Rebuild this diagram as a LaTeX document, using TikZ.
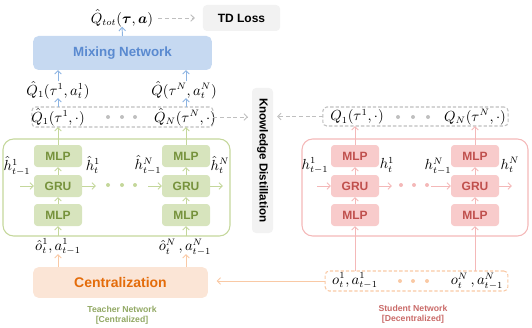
\documentclass[tikz,border=0pt]{standalone}
\usepackage{xcolor}
\usepackage{amsmath}
\usepackage{amssymb}
\usepackage{fontspec}
\setmainfont{Liberation Sans}
\usepackage{tikz}
\usetikzlibrary{positioning}
\usetikzlibrary{arrows.meta}
\usetikzlibrary{calc}

\definecolor{mixfill}{HTML}{C6D9F1}
\definecolor{mixtext}{HTML}{5A8AD0}
\definecolor{blueline}{HTML}{8DB4E2}
\definecolor{tdfill}{HTML}{F2F2F2}
\definecolor{dashgray}{HTML}{BFBFBF}
\definecolor{tline}{HTML}{C4D79B}
\definecolor{tfill}{HTML}{D7E4BD}
\definecolor{tdark}{HTML}{76923C}
\definecolor{sline}{HTML}{F4B8B8}
\definecolor{sfill}{HTML}{F8CBCB}
\definecolor{sdark}{HTML}{C0504D}
\definecolor{cfill}{HTML}{FBE5D6}
\definecolor{cdark}{HTML}{E46C0A}
\definecolor{oline}{HTML}{F9C9A5}

\begin{document}
\begin{tikzpicture}[
  x=0.75pt, y=-0.75pt,
  >={Straight Barb[length=2.6pt,width=5pt]},
  every node/.style={inner sep=0pt, outer sep=0pt},
  lbl/.style={font=\fontsize{10.5}{12}\selectfont},
  tbox/.style={fill=tfill, rounded corners=2.5pt, minimum width=36pt,
    minimum height=16.5pt, text=tdark, font=\fontsize{9}{10}\selectfont\bfseries},
  sbox/.style={tbox, fill=sfill, text=sdark},
  dbox/.style={draw=dashgray, dash pattern=on 2.5pt off 1.5pt, rounded corners=3pt, line width=0.8pt},
  tarr/.style={->, draw=tline, line width=0.7pt},
  sarr/.style={->, draw=sline, line width=0.7pt},
  barr/.style={->, draw=blueline, line width=0.7pt},
  oarr/.style={->, draw=oline, line width=0.7pt},
  garr/.style={->, draw=dashgray, dash pattern=on 3pt off 2pt, line width=0.7pt},
]
\useasboundingbox (0,0) rectangle (532,328);

% top: mixing network and loss
\node[lbl] (qtot) at (122,18) {$\hat{Q}_{tot}(\boldsymbol{\tau},\boldsymbol{a})$};
\node[fill=tdfill, rounded corners=3pt, minimum width=58pt, minimum height=19.5pt,
  font=\fontsize{9}{10}\selectfont\bfseries] (td) at (241.5,18) {TD Loss};
\node[fill=mixfill, rounded corners=4pt, minimum width=134pt, minimum height=25.5pt,
  text=mixtext, font=\fontsize{10}{12}\selectfont\bfseries] (mix) at (122.5,53) {Mixing Network};
\draw[barr] (mix.north) -- (qtot.south);
\draw[garr, shorten <=4pt, shorten >=6pt] (qtot.east) -- (td.west);

\node[lbl] (qa1) at (58,90) {$\hat{Q}_1(\tau^1,a^1_t)$};
\node[lbl] (qaN) at (184,90) {$\hat{Q}(\tau^N,a^N_t)$};
\draw[barr] (qa1.north -| 58,0) -- (58,70);
\draw[barr] (qaN.north -| 186,0) -- (186,70);

% teacher network
\node[dbox, minimum width=136pt, minimum height=15pt] (tqbox) at (122.5,117) {};
\node[lbl] (tq1) at (58,117) {$\hat{Q}_1(\tau^1,\cdot)$};
\node[lbl] (tqN) at (185,117) {$\hat{Q}_N(\tau^N,\cdot)$};
\foreach \x in {108,122,135} \fill[dashgray] (\x,117) circle (1.5pt);
\draw[barr] (58,107) -- (58,98);
\draw[barr] (186,107) -- (186,98);

\node[draw=tline, line width=0.8pt, rounded corners=8pt, minimum width=170.25pt,
  minimum height=72.75pt] (tnet) at (116.5,187.5) {};
\foreach \i/\x in {1/58, N/186} {
  \node[tbox] (tmlpb\i) at (\x,215) {MLP};
  \node[tbox] (tgru\i) at (\x,186) {GRU};
  \node[tbox] (tmlpt\i) at (\x,156) {MLP};
  \draw[tarr] (tmlpb\i) -- (tgru\i);
  \draw[tarr] (tgru\i) -- (tmlpt\i);
  \draw[tarr] (tmlpt\i.north) -- (tmlpt\i.north |- tqbox.south);
  \draw[tarr] (tmlpb\i.south |- tnet.south) -- (tmlpb\i.south);
}
\node[lbl] (th1a) at (17,166) {$\hat{h}^1_{t-1}$};
\node[lbl] (th1b) at (93,165) {$\hat{h}^1_t$};
\node[lbl] (thNa) at (148,165) {$\hat{h}^N_{t-1}$};
\node[lbl] (thNb) at (220,165) {$\hat{h}^N_t$};
\coordinate (tha) at (20,186);
\coordinate (thb) at (96,186);
\coordinate (thc) at (148,186);
\coordinate (thd) at (223,186);
\draw[tarr] (tha) -- (tgru1.west);
\draw[tarr] (tgru1.east) -- (thb);
\draw[tarr] (thc) -- (tgruN.west);
\draw[tarr] (tgruN.east) -- (thd);
\foreach \x in {108,122,135} \fill[tline] (\x,185) circle (1.5pt);

\node[lbl] (tin1) at (58,247) {$\hat{o}^1_t,a^1_{t-1}$};
\node[lbl] (tinN) at (185,247) {$\hat{o}^N_t\,,a^N_{t-1}$};
\node[fill=cfill, rounded corners=4pt, minimum width=131pt, minimum height=23pt,
  text=cdark, font=\fontsize{10.5}{12}\selectfont\bfseries] (cent) at (120.5,282.5) {Centralization};
\draw[oarr] (cent.north -| 58,0) -- (58,254);
\draw[oarr] (cent.north -| 186,0) -- (186,254);
\node[align=center, text=tdark!80, font=\fontsize{6.5}{7.5}\selectfont\bfseries] (tname) at (122,315)
  {Teacher Network\\{[Centralized]}};

% knowledge distillation
\node[fill=tdfill, rounded corners=3pt, rotate=-90, minimum width=108.75pt, minimum height=15.75pt,
  font=\fontsize{8.7}{10}\selectfont\bfseries] (kd) at (262.5,160.5) {Knowledge Distillation};

% student network
\node[dbox, minimum width=139pt, minimum height=14.25pt] (sqbox) at (415.5,116.5) {};
\node[lbl] (sq1) at (357,117) {$Q_1(\tau^1,\cdot)$};
\node[lbl] (sqN) at (475,117) {$Q_N(\tau^N,\cdot)$};
\foreach \x in {398,413,428} \fill[dashgray] (\x,117) circle (1.5pt);
\draw[garr, shorten >=3pt] (tqbox.east) -- (tqbox.east -| kd.south);
\draw[garr, shorten >=3pt] (sqbox.west) -- (sqbox.west -| kd.north);

\node[draw=sline, line width=0.8pt, rounded corners=8pt, minimum width=169.5pt,
  minimum height=72.75pt] (snet) at (415,187.5) {};
\node[dbox, draw=oline, minimum width=137pt, minimum height=15pt] (sin) at (416.5,281) {};
\foreach \i/\x in {1/355, N/475} {
  \node[sbox] (smlpb\i) at (\x,215) {MLP};
  \node[sbox] (sgru\i) at (\x,186) {GRU};
  \node[sbox] (smlpt\i) at (\x,156) {MLP};
  \draw[sarr] (smlpb\i) -- (sgru\i);
  \draw[sarr] (sgru\i) -- (smlpt\i);
  \draw[sarr] (smlpt\i.north) -- (smlpt\i.north |- sqbox.south);
  \draw[sarr] (smlpb\i.south |- sin.north) -- (smlpb\i.south);
}
\node[lbl] (sh1a) at (315,166) {$h^1_{t-1}$};
\node[lbl] (sh1b) at (387,165) {$h^1_t$};
\node[lbl] (shNa) at (438,166) {$h^N_{t-1}$};
\node[lbl] (shNb) at (510,165) {$h^N_t$};
\coordinate (sha) at (317,186);
\coordinate (shb) at (392,186);
\coordinate (shc) at (431,186);
\coordinate (shd) at (512,186);
\draw[sarr] (sha) -- (sgru1.west);
\draw[sarr] (sgru1.east) -- (shb);
\draw[sarr] (shc) -- (sgruN.west);
\draw[sarr] (sgruN.east) -- (shd);
\foreach \x in {401,414,427} \fill[sline] (\x,185) circle (1.5pt);

\node[lbl] (sin1) at (355,281) {$o^1_t,a^1_{t-1}$};
\node[lbl] (sinN) at (477,281) {$o^N_t\,,a^N_{t-1}$};
\foreach \x in {400,413,427} \fill[oline] (\x,281) circle (1.5pt);
\draw[oarr, shorten >=6.5pt] (sin.west) -- (sin.west -| cent.east);
\node[align=center, text=sdark!85, font=\fontsize{6.5}{7.5}\selectfont\bfseries] (sname) at (413,314)
  {Student Network\\{[Decentralized]}};
\end{tikzpicture}
\end{document}
